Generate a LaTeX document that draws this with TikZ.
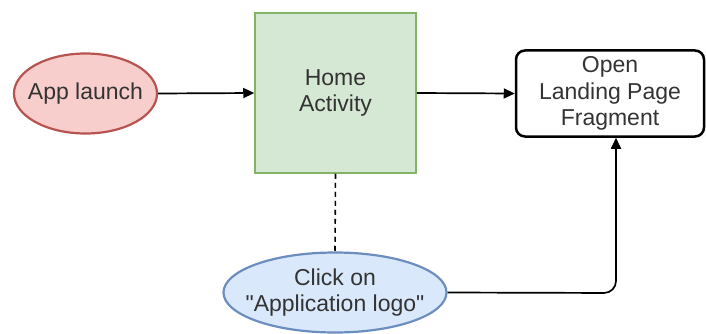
\documentclass[tikz,border=0pt]{standalone}
\usepackage{fontspec}
\newfontfamily\labfont{Liberation Sans}
\usetikzlibrary{shapes.geometric,arrows.meta}
\definecolor{redfill}{HTML}{F8CECC}
\definecolor{redline}{HTML}{B85450}
\definecolor{greenfill}{HTML}{D5E8D4}
\definecolor{greenline}{HTML}{82B366}
\definecolor{bluefill}{HTML}{DAE8FC}
\definecolor{blueline}{HTML}{6C8EBF}
\definecolor{txt}{HTML}{333333}
\tikzset{
  lbl/.style={text=txt, font=\labfont\fontsize{23}{26.5}\selectfont, align=center, inner sep=0pt},
  oval/.style={ellipse, lbl, line width=2.2pt, inner xsep=-40pt, inner ysep=-10pt},
  conn/.style={line width=1.7pt, -{Triangle[length=11pt,width=10pt]}},
}
\begin{document}
\begin{tikzpicture}[x=1pt,y=-1pt]
\useasboundingbox (0,0) rectangle (706,334);
\node[oval, draw=redline, fill=redfill, minimum width=143pt, minimum height=80pt] (app) at (85.5,93.5) {App launch};
\node[lbl, draw=greenline, fill=greenfill, line width=1.5pt, minimum width=161pt, minimum height=160pt] (home) at (335.5,93) {Home\\Activity};
\node[lbl, draw=black, line width=2.5pt, rounded corners=9pt, minimum width=188pt, minimum height=86pt] (land) at (610,93.5) {Open\\Landing Page\\Fragment};
\node[oval, draw=blueline, fill=bluefill, minimum width=223pt, minimum height=80pt] (click) at (335,292.5) {Click on\\"Application logo"};
\draw[conn] (app.east) -- (home.west);
\draw[conn] (home.east) -- (land.west);
\draw[line width=1.6pt, dashed, dash pattern=on 5pt off 4pt] (home.south) -- (click.north);
\coordinate (corner) at (616,293);
\draw[conn, rounded corners=12pt] (click.east) -- (corner) -- (land.south -| corner);
\end{tikzpicture}
\end{document}
